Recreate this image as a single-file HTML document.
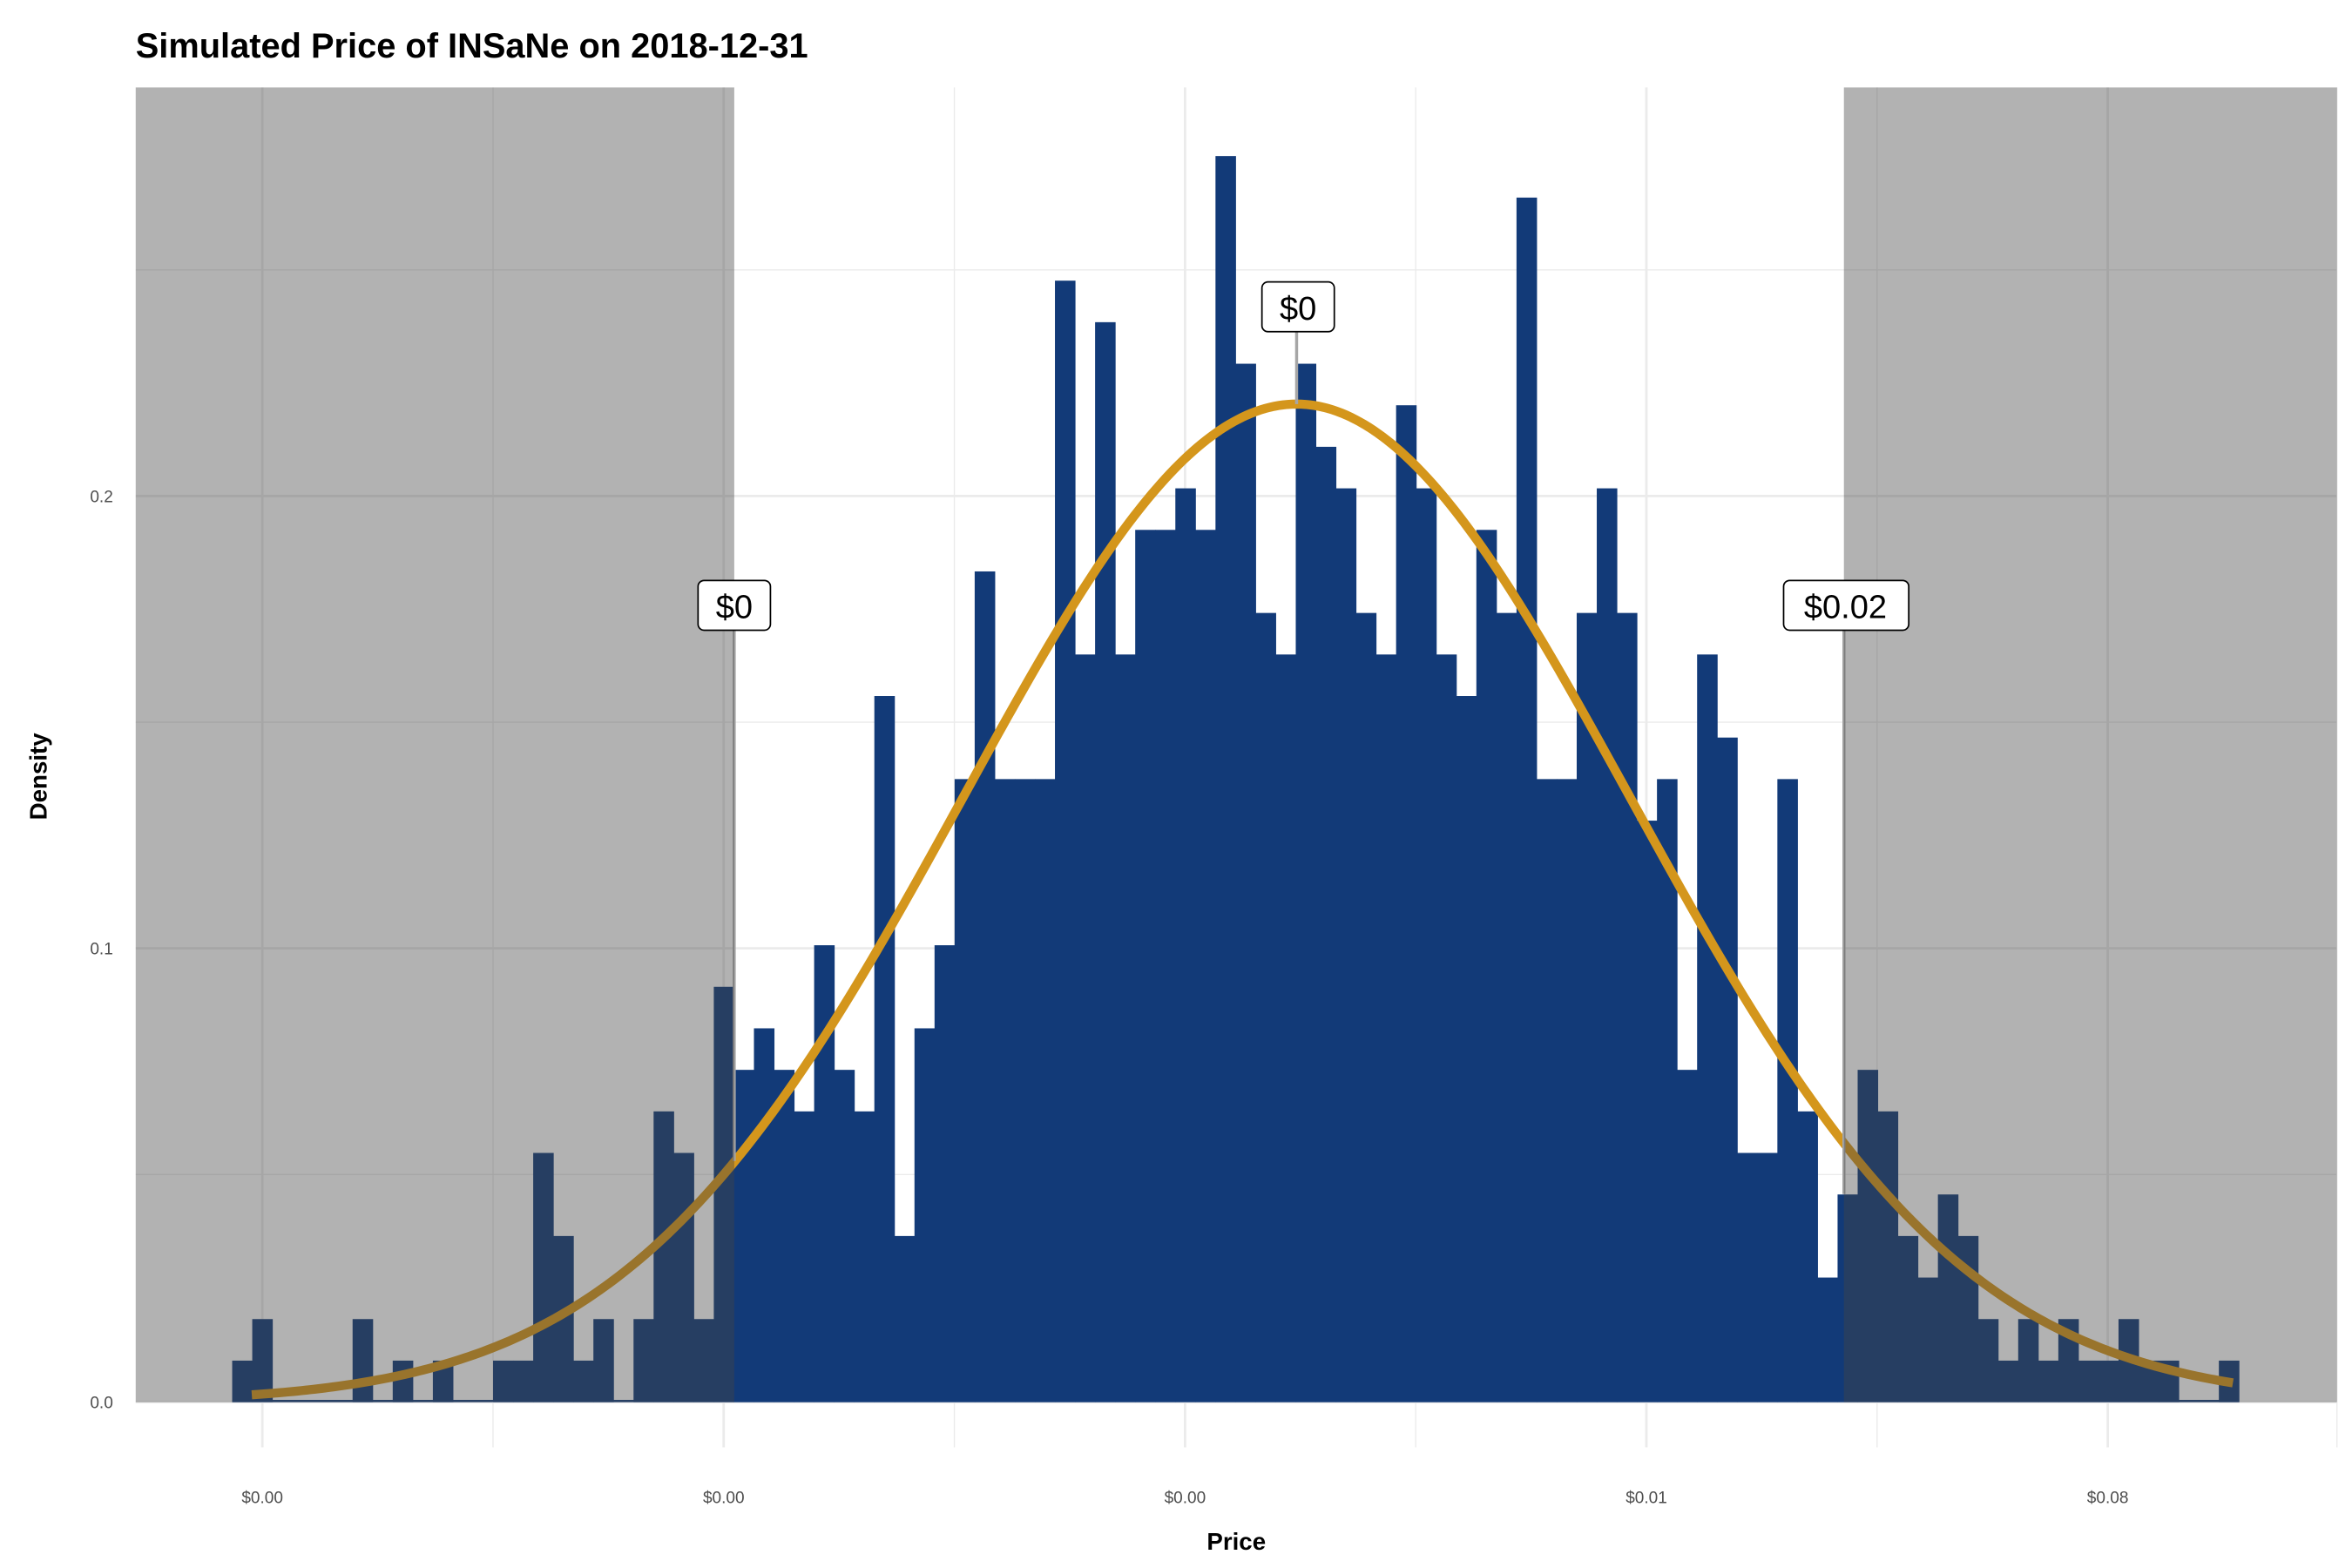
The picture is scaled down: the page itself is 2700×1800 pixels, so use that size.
<!DOCTYPE html>
<html><head><meta charset="utf-8"><style>
html,body{margin:0;padding:0;background:#fff;}
svg{display:block;}
text{font-family:"Liberation Sans",Arial,sans-serif;}
</style></head><body>
<svg id="s" width="2700" height="1800" viewBox="0 0 1560 1040" xmlns="http://www.w3.org/2000/svg">
<rect width="1560" height="1040" fill="#fff"/>
<g id="grid" stroke="#ebebeb" fill="none">
<line x1="90" x2="1550" y1="779" y2="779" stroke-width="0.8"/>
<line x1="90" x2="1550" y1="479" y2="479" stroke-width="0.8"/>
<line x1="90" x2="1550" y1="179" y2="179" stroke-width="0.8"/>
<line x1="327" x2="327" y1="58" y2="960" stroke-width="0.8"/>
<line x1="633" x2="633" y1="58" y2="960" stroke-width="0.8"/>
<line x1="939" x2="939" y1="58" y2="960" stroke-width="0.8"/>
<line x1="1245" x2="1245" y1="58" y2="960" stroke-width="0.8"/>
<line x1="1550" x2="1550" y1="58" y2="960" stroke-width="0.8"/>
<line x1="90" x2="1550" y1="930" y2="930" stroke-width="1.6"/>
<line x1="90" x2="1550" y1="629" y2="629" stroke-width="1.6"/>
<line x1="90" x2="1550" y1="329" y2="329" stroke-width="1.6"/>
<line x1="174" x2="174" y1="58" y2="960" stroke-width="1.6"/>
<line x1="480" x2="480" y1="58" y2="960" stroke-width="1.6"/>
<line x1="786" x2="786" y1="58" y2="960" stroke-width="1.6"/>
<line x1="1092" x2="1092" y1="58" y2="960" stroke-width="1.6"/>
<line x1="1398" x2="1398" y1="58" y2="960" stroke-width="1.6"/>
</g>
<g id="bars" fill="#123a78"></g>
<path id="curve" fill="none" stroke="#d4961c" stroke-width="6" stroke-linecap="butt"/>
<g stroke="#a6a6a6" stroke-width="2">
<line x1="487" x2="487" y1="418" y2="770"/>
<line x1="860" x2="860" y1="218" y2="268"/>
<line x1="1223" x2="1223" y1="418" y2="792"/>
</g>
<rect x="90" y="58" width="397" height="872" fill="rgb(68,68,68)" fill-opacity="0.41"/>
<rect x="1223" y="58" width="327" height="872" fill="rgb(68,68,68)" fill-opacity="0.41"/>
<g font-size="22" text-anchor="middle" fill="#000">
<rect x="463" y="385" width="48" height="33" rx="4" fill="#fff" stroke="#000" stroke-width="1"/>
<text x="487" y="410">$0</text>
<rect x="837" y="187" width="48" height="33" rx="4" fill="#fff" stroke="#000" stroke-width="1"/>
<text x="861" y="212">$0</text>
<rect x="1183" y="385" width="83" height="33" rx="4" fill="#fff" stroke="#000" stroke-width="1"/>
<text x="1224" y="410">$0.02</text>
</g>
<text x="90" y="38" font-size="23" font-weight="bold">Simulated Price of INSaNe on 2018-12-31</text>
<g font-size="11" fill="#4d4d4d" text-anchor="end">
<text x="75" y="934">0.0</text>
<text x="75" y="633">0.1</text>
<text x="75" y="333">0.2</text>
</g>
<g font-size="11" fill="#4d4d4d" text-anchor="middle">
<text x="174" y="997">$0.00</text>
<text x="480" y="997">$0.00</text>
<text x="786" y="997">$0.00</text>
<text x="1092" y="997">$0.01</text>
<text x="1398" y="997">$0.08</text>
</g>
<text x="820" y="1028" font-size="16" font-weight="bold" text-anchor="middle">Price</text>
<text transform="translate(31,515) rotate(-90)" font-size="16" font-weight="bold" text-anchor="middle">Density</text>
</svg>
<script>
var u=[1,2,0,0,0,0,2,0,1,0,1,0,0,1,1,6,4,1,2,0,2,7,6,2,10,8,9,8,7,11,8,7,17,4,9,11,15,20,15,15,15,27,18,26,18,21,21,22,21,30,25,19,18,25,23,22,19,18,24,22,18,17,21,19,29,15,15,19,22,19,14,15,8,18,16,6,6,15,7,3,5,8,7,4,3,5,4,2,1,2,1,2,1,1,2,1,1,0,0,1];
var g=document.getElementById('bars'),ns='http://www.w3.org/2000/svg',w=13.31,up=27.55;
for(var i=0;i<u.length;i++){if(!u[i])continue;var r=document.createElementNS(ns,'rect');var h=u[i]*up;
r.setAttribute('x',(154+w*i).toFixed(2));r.setAttribute('width',(w+0.3).toFixed(2));r.setAttribute('y',(930-h).toFixed(2));r.setAttribute('height',h.toFixed(2));g.appendChild(r);}
var base=document.createElementNS(ns,'rect');base.setAttribute('x',154);base.setAttribute('y',928.5);base.setAttribute('width',1331);base.setAttribute('height',1.5);g.appendChild(base);
var d='';for(var x=167;x<=1481;x+=3){var y=930-662*Math.exp(-Math.pow(x-860,2)/(2*221*221));d+=(d?'L':'M')+x+','+y.toFixed(2);}
document.getElementById('curve').setAttribute('d',d);
</script>
</body></html>
